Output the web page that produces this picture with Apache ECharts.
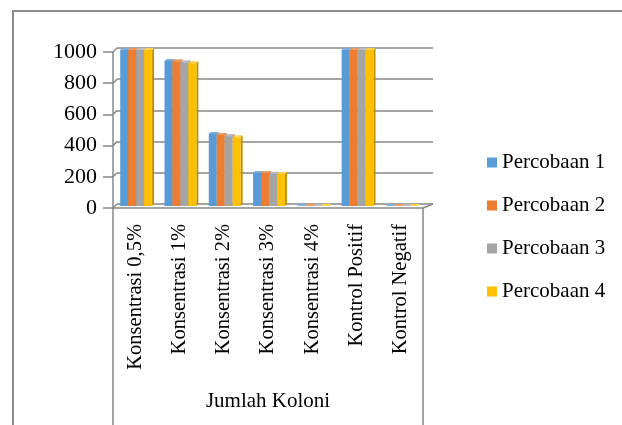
<!DOCTYPE html>
<html>
<head>
<meta charset="utf-8">
<script src="https://cdn.jsdelivr.net/npm/echarts@6/dist/echarts.min.js"></script>
<style>
  html, body { margin: 0; padding: 0; background: #fff; }
  #chart { width: 622px; height: 425px; }
</style>
</head>
<body>
<div id="chart"></div>
<script>
// data
var categories = ['Konsentrasi 0,5%', 'Konsentrasi 1%', 'Konsentrasi 2%', 'Konsentrasi 3%', 'Konsentrasi 4%', 'Kontrol Positif', 'Kontrol Negatif']
var seriesNames = ['Percobaan 1', 'Percobaan 2', 'Percobaan 3', 'Percobaan 4']
var percobaan1 = [1000, 930, 462, 212, 2, 1000, 0]
var percobaan2 = [1000, 928, 455, 211, 2, 1000, 0]
var percobaan3 = [1000, 922, 448, 206, 2, 1000, 0]
var percobaan4 = [1000, 915, 440, 205, 2, 1000, 0]
var yTicks = [0, 200, 400, 600, 800, 1000]
var axisName = 'Jumlah Koloni'

var values = [percobaan1, percobaan2, percobaan3, percobaan4]
var colors = ['#5B9BD5', '#ED7D31', '#A5A5A5', '#FFC000']
var sides = ['#41719C', '#AE5A21', '#7C7C7C', '#BF9000']
var tops = ['#7AAEDF', '#F29A5E', '#BDBDBD', '#FFD24D']
var gridColor = '#878787'
var font = 'Liberation Serif'

// 3d-ish column, k = position inside the cluster
function barItem(k) {
  return function (params, api) {
    var cat = api.value(0)
    var base = api.coord([cat, 0])
    var top = api.coord([cat, api.value(1)])
    var band = api.size([1, 0])[0]
    var w = band * 0.18
    var d = 2
    var x0 = base[0] - 2 * w + k * w
    var x1 = x0 + w
    return {
      type: 'group',
      children: [
        {type: 'polygon', shape: {points: [[x1, top[1]], [x1 + d, top[1] - d], [x1 + d, base[1] - d], [x1, base[1]]]}, style: {fill: sides[k]}},
        {type: 'polygon', shape: {points: [[x0, top[1]], [x0 + d, top[1] - d], [x1 + d, top[1] - d], [x1, top[1]]]}, style: {fill: tops[k]}},
        {type: 'rect', shape: {x: x0, y: top[1], width: w, height: base[1] - top[1]}, style: {fill: colors[k]}},
      ],
    }
  }
}

// little diagonals joining the front axis to the back wall
function wallLinks(params, api) {
  var v = api.value(1)
  var p = api.coord([0, v])
  var cs = params.coordSys
  var st = {stroke: gridColor, lineWidth: 1.5}
  var kids = [{type: 'line', shape: {x1: cs.x, y1: p[1], x2: cs.x + 4, y2: p[1] - 4}, style: st}]
  if (v === 0) {
    kids.push({type: 'line', shape: {x1: cs.x + cs.width, y1: p[1], x2: cs.x + cs.width + 10, y2: p[1] - 4}, style: st})
  }
  return {type: 'group', children: kids}
}

var series = seriesNames.map(function (name, k) {
  return {
    name: name,
    type: 'custom',
    xAxisIndex: 2,
    yAxisIndex: 2,
    itemStyle: {color: colors[k]},
    renderItem: barItem(k),
    data: categories.map(function (c, i) { return [i, values[k][i]] }),
    z: 5,
  }
})
series.push({
  type: 'custom',
  xAxisIndex: 0,
  yAxisIndex: 0,
  silent: true,
  renderItem: wallLinks,
  data: yTicks.map(function (v) { return [0, v] }),
  z: 2,
})

var chart = echarts.init(document.getElementById('chart'))
chart.setOption({
  animation: false,
  textStyle: {fontFamily: font, color: '#000'},
  grid: [
    {left: 113, right: 199, top: 52, bottom: 217},
    {left: 117, right: 189, top: 48, bottom: 221},
    {left: 114, right: 198, top: 50, bottom: 219},
  ],
  legend: {
    orient: 'vertical',
    left: 482,
    top: 147,
    icon: 'rect',
    itemWidth: 10,
    itemHeight: 10,
    itemGap: 22,
    data: seriesNames,
    textStyle: {fontFamily: font, fontSize: 21, color: '#000'},
  },
  xAxis: [
    {
      type: 'category',
      gridIndex: 0,
      data: categories,
      name: axisName,
      nameLocation: 'middle',
      nameGap: 183,
      nameTextStyle: {fontFamily: font, fontSize: 21, color: '#000'},
      axisLine: {lineStyle: {color: gridColor, width: 1.5}},
      axisTick: {interval: 0, length: 164, lineStyle: {color: gridColor, width: 1.5}},
      axisLabel: {interval: 0, rotate: 90, margin: 16, fontFamily: font, fontSize: 20.5, color: '#000'},
      splitLine: {show: false},
    },
    {type: 'category', gridIndex: 1, data: categories, show: false},
    {type: 'category', gridIndex: 2, data: categories, show: false},
  ],
  yAxis: [
    {
      type: 'value',
      gridIndex: 0,
      min: 0,
      max: 1000,
      interval: 200,
      axisLine: {show: true, lineStyle: {color: gridColor, width: 1.5}},
      axisTick: {show: true, length: 10, lineStyle: {color: gridColor, width: 1.5}},
      axisLabel: {margin: 16, fontFamily: font, fontSize: 22, color: '#000', formatter: function (v) { return String(v) }},
      splitLine: {show: false},
    },
    {
      type: 'value',
      gridIndex: 1,
      min: 0,
      max: 1000,
      interval: 200,
      axisLine: {show: false},
      axisTick: {show: false},
      axisLabel: {show: false},
      splitLine: {show: true, lineStyle: {color: gridColor, width: 1.5}},
    },
    {type: 'value', gridIndex: 2, min: 0, max: 1000, interval: 200, show: false, splitLine: {show: false}},
  ],
  graphic: [
    {type: 'rect', shape: {x: 13, y: 11, width: 700, height: 500}, style: {fill: 'none', stroke: '#8c8c8c', lineWidth: 2}, silent: true, z: -1},
    {type: 'line', shape: {x1: 113, y1: 208, x2: 113, y2: 425}, style: {stroke: gridColor, lineWidth: 1.5}, silent: true},
    {type: 'line', shape: {x1: 423, y1: 208, x2: 423, y2: 425}, style: {stroke: gridColor, lineWidth: 1.5}, silent: true},
  ],
  series: series,
})
</script>
</body>
</html>
